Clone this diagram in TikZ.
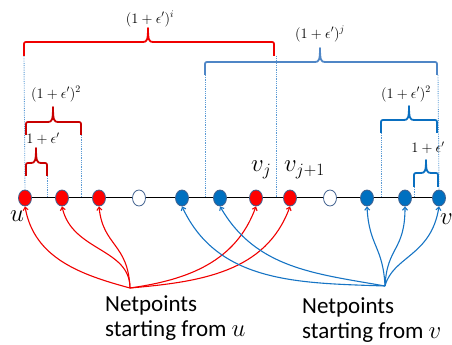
\documentclass[tikz,border=0pt]{standalone}
\usepackage[no-math]{fontspec}
\setmainfont{Carlito}
\usetikzlibrary{shapes.geometric,arrows.meta}
\definecolor{ptRed}{HTML}{FF0000}
\definecolor{ptBlue}{HTML}{0070C0}
\definecolor{ptEdge}{HTML}{41618F}
\definecolor{guideBlue}{HTML}{5B9BD5}
\definecolor{braceRedA}{HTML}{F00000}
\definecolor{braceRedB}{HTML}{C80000}
\definecolor{braceBlueA}{HTML}{4F86C6}
\definecolor{braceBlueB}{HTML}{0A6FC0}
\definecolor{arrRed}{HTML}{F00000}
\definecolor{arrBlue}{HTML}{1674C4}
\newcommand\drawbrace[7]{% style, x1, x2, xm, yh, yb, ytip
  \draw[#1] (#2,#6) -- (#2,#5-4) .. controls (#2,#5) .. (#2+4,#5) -- (#4-5,#5)
    .. controls (#4-1,#5) and (#4,#5+2) .. (#4,#7)
    .. controls (#4,#5+2) and (#4+1,#5) .. (#4+5,#5) -- (#3-4,#5)
    .. controls (#3,#5) .. (#3,#5-4) -- (#3,#6);}
\begin{document}
\begin{tikzpicture}[x=1pt,y=1pt,
  pt/.style={ellipse, minimum width=13pt, minimum height=16pt, inner sep=0pt, draw=ptEdge, line width=0.8pt},
  redpt/.style={pt, fill=ptRed},
  bluept/.style={pt, fill=ptBlue},
  whitept/.style={pt, fill=white},
  guide/.style={draw=guideBlue, line width=0.9pt, dash pattern=on 0.8pt off 1pt},
  rbraceA/.style={draw=braceRedA, line width=1.8pt, line join=round},
  rbraceB/.style={draw=braceRedB, line width=1.8pt, line join=round},
  bbraceA/.style={draw=braceBlueA, line width=1.8pt, line join=round},
  bbraceB/.style={draw=braceBlueB, line width=1.8pt, line join=round},
  rarr/.style={draw=arrRed, line width=1.1pt, -{Straight Barb[length=3pt,width=5pt]}},
  barr/.style={draw=arrBlue, line width=1.1pt, -{Straight Barb[length=3pt,width=5pt]}},
  mlab/.style={font=\fontsize{14}{16}\selectfont, inner sep=0pt},
  nlab/.style={font=\fontsize{26}{30}\selectfont, inner sep=0pt, anchor=base west},
  caption/.style={font=\fontsize{23}{25.5}\selectfont, align=left, inner sep=0pt, anchor=north west}
]
\useasboundingbox (0,0) rectangle (452,345);

% points on the line
\node[redpt]   (r1)  at (25,147) {};
\node[redpt]   (r2)  at (62,147) {};
\node[redpt]   (r3)  at (99,147) {};
\node[whitept] (w1)  at (139,147) {};
\node[bluept]  (b1)  at (182,147) {};
\node[bluept]  (b2)  at (220,147) {};
\node[redpt]   (rj)  at (256,147) {};
\node[redpt]   (rj1) at (290,147) {};
\node[whitept] (w2)  at (330,147) {};
\node[bluept]  (b3)  at (367,147) {};
\node[bluept]  (b4)  at (405,147) {};
\node[bluept]  (bv)  at (439,147) {};
\draw[line width=1pt] (r1) -- (r2) -- (r3) -- (w1) -- (b1) -- (b2) -- (rj) -- (rj1) -- (w2) -- (b3) -- (b4) -- (bv);

% point labels
\node[nlab] (lu)  at (10,123) {$u$};
\node[nlab] (lvj) at (251,173) {$v_j$};
\node[nlab] (lvj1) at (284,173) {$v_{j+1}$};
\node[nlab] (lv)  at (440,120) {$v$};

% dotted guides
\draw[guide] (24,289) -- (r1.north);
\draw[guide] (47,169) -- (47,148);
\draw[guide] (81,210) -- (81,148);
\draw[guide] (205,270) -- (205,148);
\draw[guide] (276,289) -- (276,148);
\draw[guide] (381,212) -- (381,148);
\draw[guide] (414,158) -- (414,148);
\draw[guide] (438,270) -- (bv.north);

% red braces
\drawbrace{rbraceA}{24}{274}{148}{303}{289}{317}
\drawbrace{rbraceB}{26}{81}{53}{223}{210}{238}
\drawbrace{rbraceB}{26}{47}{36}{182}{169}{197}
\node[mlab] (li)  at (150,326) {$(1+\epsilon')^{i}$};
\node[mlab] (l2r) at (56,251) {$(1+\epsilon')^{2}$};
\node[mlab] (l1r) at (43,206) {$1+\epsilon'$};

% blue braces
\drawbrace{bbraceA}{205}{437}{320}{283}{270}{297}
\drawbrace{bbraceB}{381}{437}{409}{225}{212}{239}
\drawbrace{bbraceB}{414}{438}{426}{172}{158}{185}
\node[mlab] (lj)  at (320,311) {$(1+\epsilon')^{j}$};
\node[mlab] (l2b) at (406,251) {$(1+\epsilon')^{2}$};
\node[mlab] (l1b) at (428,197) {$1+\epsilon'$};

% captions
\node[caption] (tu) at (105,50) {Netpoints\\starting from $u$};
\node[caption] (tv) at (302,48) {Netpoints\\starting from $v$};
\coordinate (ou) at (130,57);
\coordinate (ov) at (385,59);

% red arrows
\draw[rarr] (ou) to[out=165,in=-80] (r1.south);
\draw[rarr] (ou) .. controls +(0,40) and +(10,-45) .. (r2.south);
\draw[rarr] (ou) .. controls +(-2,45) and +(4,-40) .. (r3.south);
\draw[rarr] (ou) to[out=8,in=-110] (rj.south);
\draw[rarr] (ou) to[out=5,in=-110] (rj1.south);

% blue arrows
\draw[barr] (ov) to[out=178,in=-65] (b1.south);
\draw[barr] (ov) to[out=170,in=-60] (b2.south);
\draw[barr] (ov) .. controls +(-2,40) and +(2,-40) .. (b3.south);
\draw[barr] (ov) .. controls +(2,40) and +(0,-45) .. (b4.south);
\draw[barr] (ov) .. controls +(8,30) and +(-8,-50) .. (bv.south);
\end{tikzpicture}
\end{document}
